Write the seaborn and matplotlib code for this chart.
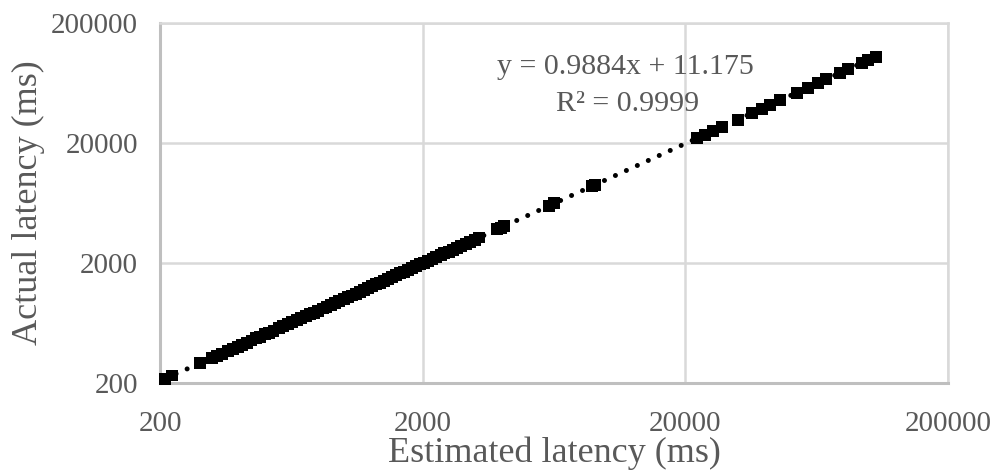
import matplotlib
matplotlib.use("Agg")
import matplotlib.pyplot as plt
import seaborn as sns
import pandas as pd
import numpy as np

# ---- data ----
estimated_ms = [
    209, 222, 284, 315, 330, 345, 362, 378, 395, 410, 428, 446, 463, 481,
    502, 520, 541, 566, 590, 612, 637, 664, 690, 718, 745, 770, 801, 833,
    861, 895, 928, 962, 1001, 1036, 1074, 1112, 1150, 1192, 1238, 1281,
    1330, 1378, 1425, 1474, 1530, 1585, 1643, 1702, 1760, 1826, 1890, 1958,
    2030, 2102, 2180, 2255, 2340, 2420, 2510, 2600, 2700, 2810, 2920, 3040,
    3160, 3290, 3850, 3960, 4080, 6050, 6350, 8800, 9050,
    22140, 23760, 25480, 27560, 31720, 35860, 39120, 41980, 45840, 53180,
    58580, 63940, 68580, 77540, 83180, 94020, 99120, 106320,
]
actual_ms = [
    216, 231, 292, 322, 338, 352, 370, 384, 402, 418, 434, 452, 470, 487,
    508, 526, 546, 571, 594, 617, 641, 668, 693, 722, 748, 772, 803, 835,
    862, 896, 929, 962, 1000, 1035, 1072, 1110, 1148, 1190, 1235, 1277,
    1326, 1374, 1420, 1468, 1524, 1578, 1636, 1694, 1751, 1817, 1880, 1947,
    2018, 2090, 2166, 2240, 2324, 2403, 2492, 2581, 2680, 2788, 2897, 3016,
    3134, 3263, 3816, 3925, 4044, 5990, 6290, 8710, 8960,
    21900, 23500, 25200, 27250, 31370, 35450, 38680, 41510, 45320, 52570,
    57910, 63210, 67800, 76650, 82220, 92930, 97980, 105100,
]
x_ticks = [200, 2000, 20000, 200000]
y_ticks = [200, 2000, 20000, 200000]
tick_labels = ["200", "2000", "20000", "200000"]
trend_slope = 0.9884
trend_intercept = 11.175
eq_text = "y = 0.9884x + 11.175"
r2_text = "R² = 0.9999"
x_label = "Estimated latency (ms)"
y_label = "Actual latency (ms)"

df = pd.DataFrame({"Estimated": estimated_ms, "Actual": actual_ms})

sns.set_theme(style="white")
plt.rcParams["font.family"] = ["Liberation Serif", "DejaVu Serif"]

fig = plt.figure(figsize=(10.02, 4.72), dpi=100)
ax = fig.add_axes([160 / 1002, 1 - 383 / 472, (948 - 160) / 1002, (383 - 23) / 472])

ax.set_xscale("log")
ax.set_yscale("log")
ax.set_xlim(200, 200000)
ax.set_ylim(200, 200000)

grid_c = "#d9d9d9"
for v in x_ticks[1:]:
    ax.axvline(v, color=grid_c, lw=1.8, zorder=0)
for v in y_ticks[1:]:
    ax.axhline(v, color=grid_c, lw=1.8, zorder=0)

# trendline
tx = np.geomspace(min(estimated_ms), max(estimated_ms), 200)
ty = trend_slope * tx + trend_intercept
ax.plot(tx, ty, color="black", lw=3.6, linestyle=(0, (0.01, 2.4)),
        dash_capstyle="round", zorder=2)

sns.scatterplot(data=df, x="Estimated", y="Actual", marker="s", color="black",
                edgecolor="none", s=74, ax=ax, zorder=3, clip_on=False)

ax.set_xticks(x_ticks)
ax.set_xticklabels(tick_labels)
ax.set_yticks(y_ticks)
ax.set_yticklabels(tick_labels)
ax.minorticks_off()
ax.tick_params(axis="both", which="both", length=0, labelsize=21,
               labelcolor="#595959")
ax.tick_params(axis="x", pad=20)
ax.tick_params(axis="y", pad=16)

for side in ["left", "bottom"]:
    ax.spines[side].set_color("#bfbfbf")
    ax.spines[side].set_linewidth(2.2)
for side in ["top", "right"]:
    ax.spines[side].set_color(grid_c)
    ax.spines[side].set_linewidth(1.8)

ax.set_xlabel(x_label, fontsize=26, color="#595959", labelpad=0)
ax.set_ylabel(y_label, fontsize=26, color="#595959", labelpad=4)

ax.text(0.591, 0.878, eq_text, transform=ax.transAxes, ha="center",
        va="center", fontsize=21.5, color="#595959")
ax.text(0.593, 0.775, r2_text, transform=ax.transAxes, ha="center",
        va="center", fontsize=21.5, color="#595959")

fig.savefig("out.png", dpi=100)
